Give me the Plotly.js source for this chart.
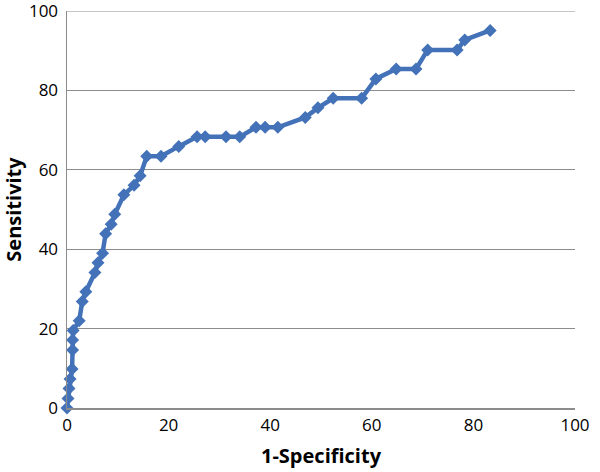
<!DOCTYPE html>
<html>
<head>
<meta charset="utf-8">
<script src="https://cdn.plot.ly/plotly-3.0.1.min.js"></script>
<style>
  body { margin: 0; background: #fff; }
  #roc { width: 600px; height: 472px; }
</style>
</head>
<body>
<div id="roc"></div>
<script>
// 1 - specificity (%)
const specX = [0, 0.2, 0.4, 0.6, 1.0, 1.1, 1.1, 1.2, 2.4, 3.0, 3.7, 5.5, 6.1, 7.0, 7.6, 8.7,
  9.4, 11.2, 13.2, 14.4, 15.7, 18.5, 22.0, 25.6, 27.2, 31.3, 34.0, 37.2, 39.0, 41.5,
  46.9, 49.4, 52.4, 58.0, 60.8, 64.8, 68.7, 71.0, 76.8, 78.3, 83.3];
// sensitivity (%)
const sensY = [0, 2.4, 4.9, 7.3, 9.8, 14.6, 17.1, 19.5, 22.0, 26.8, 29.3, 34.1, 36.6, 39.0, 43.9, 46.3,
  48.8, 53.7, 56.1, 58.5, 63.4, 63.4, 65.9, 68.3, 68.3, 68.3, 68.3, 70.7, 70.7, 70.7,
  73.2, 75.6, 78.0, 78.0, 82.9, 85.4, 85.4, 90.2, 90.2, 92.7, 95.1];
const tickVals = [0, 20, 40, 60, 80, 100];

const blue = '#4472b8';

const data = [
    {
        x: specX,
        y: sensY,
        type: 'scatter',
        mode: 'lines+markers',
        line: {color: blue, width: 4.5},
        marker: {symbol: 'diamond', size: 10, color: blue},
        cliponaxis: false,
        hoverinfo: 'none'
    }
];

const layout = {
    width: 600,
    height: 472,
    showlegend: false,
    paper_bgcolor: '#fff',
    plot_bgcolor: '#fff',
    font: {family: 'Open Sans, Liberation Sans, sans-serif', size: 17, color: '#000'},
    margin: {l: 67, r: 25, t: 11, b: 64},
    xaxis: {
        range: [0, 100],
        tickvals: tickVals,
        showgrid: false,
        zeroline: false,
        showline: true,
        linecolor: '#8c8c8c',
        linewidth: 1.5,
        ticks: '',
        ticklabelstandoff: 1,
        title: {text: '<b>1-Specificity</b>', font: {size: 20}, standoff: 14}
    },
    yaxis: {
        range: [0, 100],
        tickvals: tickVals,
        ticktext: tickVals.map(String),
        showgrid: true,
        gridcolor: '#8c8c8c',
        gridwidth: 1.2,
        zeroline: false,
        showline: true,
        linecolor: '#8c8c8c',
        linewidth: 1.5,
        ticks: '',
        ticklabelstandoff: 4,
        ticklabeloverflow: 'allow',
        title: {text: '<b>Sensitivity</b>', font: {size: 20}, standoff: 5}
    },
    // gridline at 100 sits on the range edge, so draw it explicitly
    shapes: [
        {type: 'line', xref: 'paper', yref: 'y', x0: 0, x1: 1, y0: 100, y1: 100,
         line: {color: '#8c8c8c', width: 1.2}, layer: 'below'}
    ]
};

Plotly.newPlot('roc', data, layout, {displayModeBar: false, staticPlot: true});
</script>
</body>
</html>
